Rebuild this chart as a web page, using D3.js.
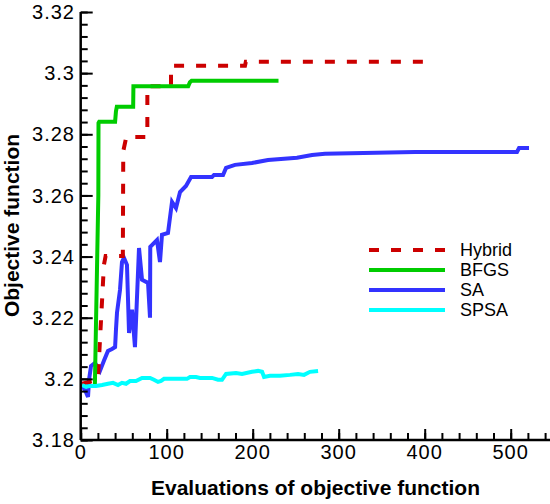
<!DOCTYPE html>
<html>
<head>
<meta charset="utf-8">
<script src="https://cdn.jsdelivr.net/npm/d3@7"></script>
<style>
  body { margin: 0; background: #fff; }
  svg { display: block; font-family: "Liberation Sans", Arial, sans-serif; }
</style>
</head>
<body>
<script>
(function (d3) {
  'use strict';

  // series: [evaluations, objective]
  const hybrid = [[1.5,3.1984],[20,3.1997],[27,3.2373],[29,3.2402],[49,3.2402],[49.5,3.2745],[53,3.2791],
    [77.5,3.2791],[77.5,3.2957],[105,3.2957],[105,3.3024],[191,3.3024],[192,3.3037],[404,3.3037]];

  const bfgs = [[16.5,3.198],[20.5,3.26],[20.7,3.2837],[21.5,3.2841],[40,3.2841],[41,3.2875],[42,3.289],
    [61,3.289],[61.3,3.2957],[125,3.2957],[127,3.297],[129,3.2975],[230,3.2975]];

  const sa = [[1.5,3.198],[6,3.1957],[8.5,3.1941],[9.7,3.1997],[12,3.2042],[16.6,3.2052],[22.4,3.2026],
    [27,3.2059],[31.7,3.2091],[36.4,3.2098],[40,3.2104],[41,3.216],[42.2,3.2216],[45.7,3.2291],[48,3.2382],
    [50.3,3.2396],[53.8,3.2373],[56.2,3.215],[59.7,3.2226],[63.1,3.2104],[67.8,3.2428],[71.3,3.2324],
    [78.3,3.2314],[80.6,3.22],[80.9,3.2432],[88.7,3.2454],[92.2,3.2382],[94.5,3.2471],[101.5,3.2477],
    [106.2,3.2579],[110.8,3.2559],[115.5,3.2611],[122.4,3.2631],[128.3,3.266],[152.7,3.266],[155,3.2667],
    [165.5,3.2667],[169,3.269],[179.4,3.27],[199.2,3.2706],[217.8,3.2716],[251.5,3.2723],[269,3.2732],
    [284,3.2736],[388.7,3.2742],[507.3,3.2742],[509.7,3.2755],[521.3,3.2755]];

  const spsa = [[1.5,3.198],[6.2,3.1974],[10.8,3.1977],[17.8,3.1977],[24.8,3.198],[31.7,3.1984],[37.6,3.1987],
    [43.4,3.198],[48,3.1987],[52.7,3.1984],[57.3,3.1993],[64.3,3.1993],[71.3,3.2003],[75.9,3.2003],
    [80.6,3.2003],[85.2,3.1997],[89.9,3.199],[93.4,3.1993],[96.9,3.2],[123.6,3.2],[127.1,3.2006],
    [134.1,3.2006],[138.7,3.2003],[152.7,3.2003],[159.7,3.1997],[164.3,3.1997],[169,3.2016],[180.6,3.2019],
    [187.6,3.2016],[199.2,3.2023],[206.2,3.2026],[210.9,3.2023],[213.2,3.2006],[220.1,3.201],[231.7,3.201],
    [243.4,3.2013],[252.7,3.2016],[259.7,3.2013],[266.6,3.2023],[276,3.2026]];

  const seriesNames = ['Hybrid', 'BFGS', 'SA', 'SPSA'];
  const xMajor = [0, 100, 200, 300, 400, 500];
  const yMajor = [3.18, 3.2, 3.22, 3.24, 3.26, 3.28, 3.3, 3.32];

  const W = 550, H = 504;
  const x = d3.scaleLinear().domain([0, 550]).range([80.7, 553.7]);
  const y = d3.scaleLinear().domain([3.18, 3.32]).range([440, 12]);

  const svg = d3.select('body').append('svg')
    .attr('width', W).attr('height', H);

  const color = {Hybrid: '#cc0000', BFGS: '#00cc00', SA: '#3333ff', SPSA: '#00ffff'};
  const dash = {Hybrid: '10,12'};

  const line = d3.line().x(d => x(d[0])).y(d => y(d[1]));

  // draw order: SA under, hybrid, then BFGS, SPSA on top
  const drawOrder = [['SA', sa], ['Hybrid', hybrid], ['BFGS', bfgs], ['SPSA', spsa]];
  svg.append('g').selectAll('path')
    .data(drawOrder)
    .join('path')
      .attr('d', d => line(d[1]))
      .attr('fill', 'none')
      .attr('stroke', d => color[d[0]])
      .attr('stroke-width', 4)
      .attr('stroke-linejoin', 'miter')
      .attr('stroke-dasharray', d => dash[d[0]] || null);

  // axes (ticks inside, Tecplot style)
  const fmt = v => String(+v.toFixed(2));
  const yAxis = svg.append('g').attr('transform', `translate(${x(0)},0)`);
  yAxis.call(d3.axisRight(y).tickValues(d3.range(0, 36).map(i => 3.18 + i * 0.004)).tickSize(7).tickFormat(''));
  yAxis.call(g => g.selectAll('.tick line').attr('stroke-width', 2));
  const yMaj = svg.append('g').attr('transform', `translate(${x(0)},0)`);
  yMaj.call(d3.axisRight(y).tickValues(yMajor).tickSize(12).tickFormat(''));
  yMaj.selectAll('.tick line').attr('stroke-width', 2);
  yMaj.select('.domain').remove();
  yAxis.select('.domain').attr('d', `M0,${y(3.32)}V${y(3.18)}`).attr('stroke-width', 2.5);

  const xAxis = svg.append('g').attr('transform', `translate(0,${y(3.18)})`);
  xAxis.call(d3.axisTop(x).tickValues(d3.range(0, 551, 20)).tickSize(7).tickFormat(''));
  xAxis.selectAll('.tick line').attr('stroke-width', 2);
  xAxis.select('.domain').attr('d', `M${x(0)},0H${W}`).attr('stroke-width', 2.5);
  const xMaj = svg.append('g').attr('transform', `translate(0,${y(3.18)})`);
  xMaj.call(d3.axisTop(x).tickValues(xMajor).tickSize(11).tickFormat(''));
  xMaj.selectAll('.tick line').attr('stroke-width', 2);
  xMaj.select('.domain').remove();

  // tick labels
  svg.append('g').selectAll('text')
    .data(yMajor)
    .join('text')
      .attr('x', 75).attr('y', d => y(d)).attr('dy', '0.36em')
      .attr('text-anchor', 'end')
      .attr('font-size', 20).attr('letter-spacing', 1)
      .text(fmt);
  svg.append('g').selectAll('text')
    .data(xMajor)
    .join('text')
      .attr('x', d => x(d)).attr('y', 459)
      .attr('text-anchor', 'middle')
      .attr('font-size', 20).attr('letter-spacing', 1)
      .text(d => d);

  // axis titles
  svg.append('text')
    .attr('x', 315.5).attr('y', 495)
    .attr('text-anchor', 'middle')
    .attr('font-size', 21).attr('font-weight', 'bold')
    .text('Evaluations of objective function');
  svg.append('text')
    .attr('transform', 'translate(18.5,225.5) rotate(-90)')
    .attr('text-anchor', 'middle')
    .attr('font-size', 21).attr('font-weight', 'bold')
    .text('Objective function');

  // legend
  const legend = svg.append('g').selectAll('g')
    .data(seriesNames)
    .join('g')
      .attr('transform', (d, i) => `translate(369,${250 + i * 20})`);
  legend.append('line')
    .attr('x1', 0).attr('x2', 76)
    .attr('stroke', d => color[d]).attr('stroke-width', 4)
    .attr('stroke-dasharray', d => dash[d] || null);
  legend.append('text')
    .attr('x', 91).attr('dy', '0.36em')
    .attr('font-size', 18)
    .text(d => d);

}(d3));
</script>
</body>
</html>
